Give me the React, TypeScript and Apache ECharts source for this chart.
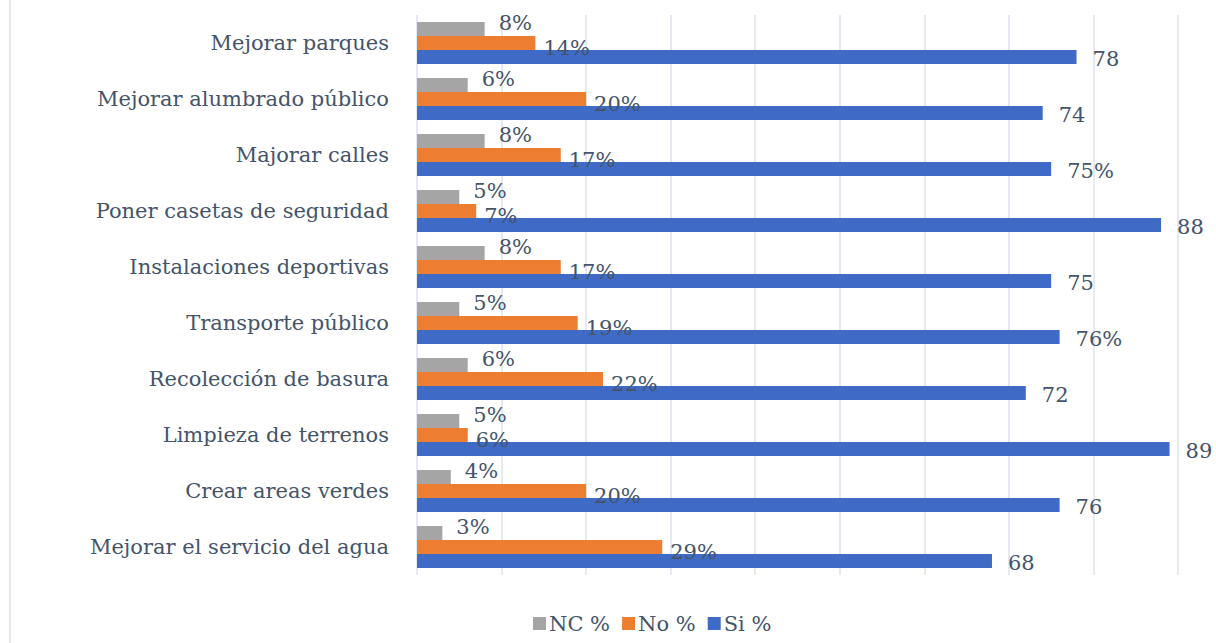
import React, { useEffect, useRef } from "react";
import * as echarts from "echarts";

const categories = [
  "Mejorar parques",
  "Mejorar alumbrado público",
  "Majorar calles",
  "Poner casetas de seguridad",
  "Instalaciones deportivas",
  "Transporte público",
  "Recolección de basura",
  "Limpieza de terrenos",
  "Crear areas verdes",
  "Mejorar el servicio del agua",
];

const seriesNames = ["NC %", "No %", "Si %"];
const ncValues = [8, 6, 8, 5, 8, 5, 6, 5, 4, 3];
const noValues = [14, 20, 17, 7, 17, 19, 22, 6, 20, 29];
const siValues = [78, 74, 75, 88, 75, 76, 72, 89, 76, 68];
const siLabels = ["78", "74", "75%", "88", "75", "76%", "72", "89", "76", "68"];

const xMin = 0;
const xMax = 90;
const xInterval = 10;

const textColor = "#44546A";
const fontFamily = "DejaVu Serif";

export default function App() {
  const ref = useRef<HTMLDivElement>(null);

  useEffect(() => {
    if (!ref.current) return;
    const chart = echarts.init(ref.current, undefined, { renderer: "svg" });
    const labelBase = {
      show: true,
      position: "right" as const,
      color: textColor,
      fontFamily,
      fontSize: 21,
    };
    chart.setOption({
      animation: false,
      backgroundColor: "#ffffff",
      textStyle: { fontFamily },
      legend: {
        data: seriesNames,
        bottom: 4,
        left: 528,
        icon: "rect",
        itemWidth: 13,
        itemHeight: 13,
        itemGap: 12,
        textStyle: { color: textColor, fontSize: 21, fontFamily, padding: [0, 0, 0, -2] },
      },
      grid: { left: 417, right: 38, top: 15, bottom: 68, containLabel: false },
      xAxis: {
        type: "value",
        min: xMin,
        max: xMax,
        interval: xInterval,
        axisLabel: { show: false },
        axisLine: { show: false },
        axisTick: { show: false },
        splitLine: { show: true, lineStyle: { color: "#DCE2EC", width: 1.5 } },
      },
      yAxis: {
        type: "category",
        data: categories,
        inverse: true,
        axisLine: { show: false },
        axisTick: { show: false },
        axisLabel: { color: textColor, fontSize: 21, fontFamily, margin: 28 },
      },
      series: [
        {
          name: seriesNames[0],
          type: "bar",
          data: ncValues,
          barWidth: 14,
          barGap: "0%",
          itemStyle: { color: "#A5A5A5" },
          label: { ...labelBase, distance: 14, offset: [0, -6], formatter: (p: any) => p.value + "%" },
        },
        {
          name: seriesNames[1],
          type: "bar",
          data: noValues,
          barWidth: 14,
          barGap: "0%",
          itemStyle: { color: "#ED7D31" },
          label: { ...labelBase, distance: 8, offset: [0, 5], formatter: (p: any) => p.value + "%" },
        },
        {
          name: seriesNames[2],
          type: "bar",
          data: siValues,
          barWidth: 14,
          barGap: "0%",
          itemStyle: { color: "#3F6BC6" },
          label: { ...labelBase, distance: 16, offset: [0, 2], formatter: (p: any) => siLabels[p.dataIndex] },
        },
      ],
      graphic: [
        {
          type: "line",
          shape: { x1: 10, y1: 0, x2: 10, y2: 643 },
          style: { stroke: "#E4E8F0", lineWidth: 2 },
        },
      ],
    });
    return () => chart.dispose();
  }, []);

  return (
    <div
      ref={ref}
      style={{ position: "fixed", left: 0, top: 0, width: 1216, height: 643 }}
    />
  );
}
